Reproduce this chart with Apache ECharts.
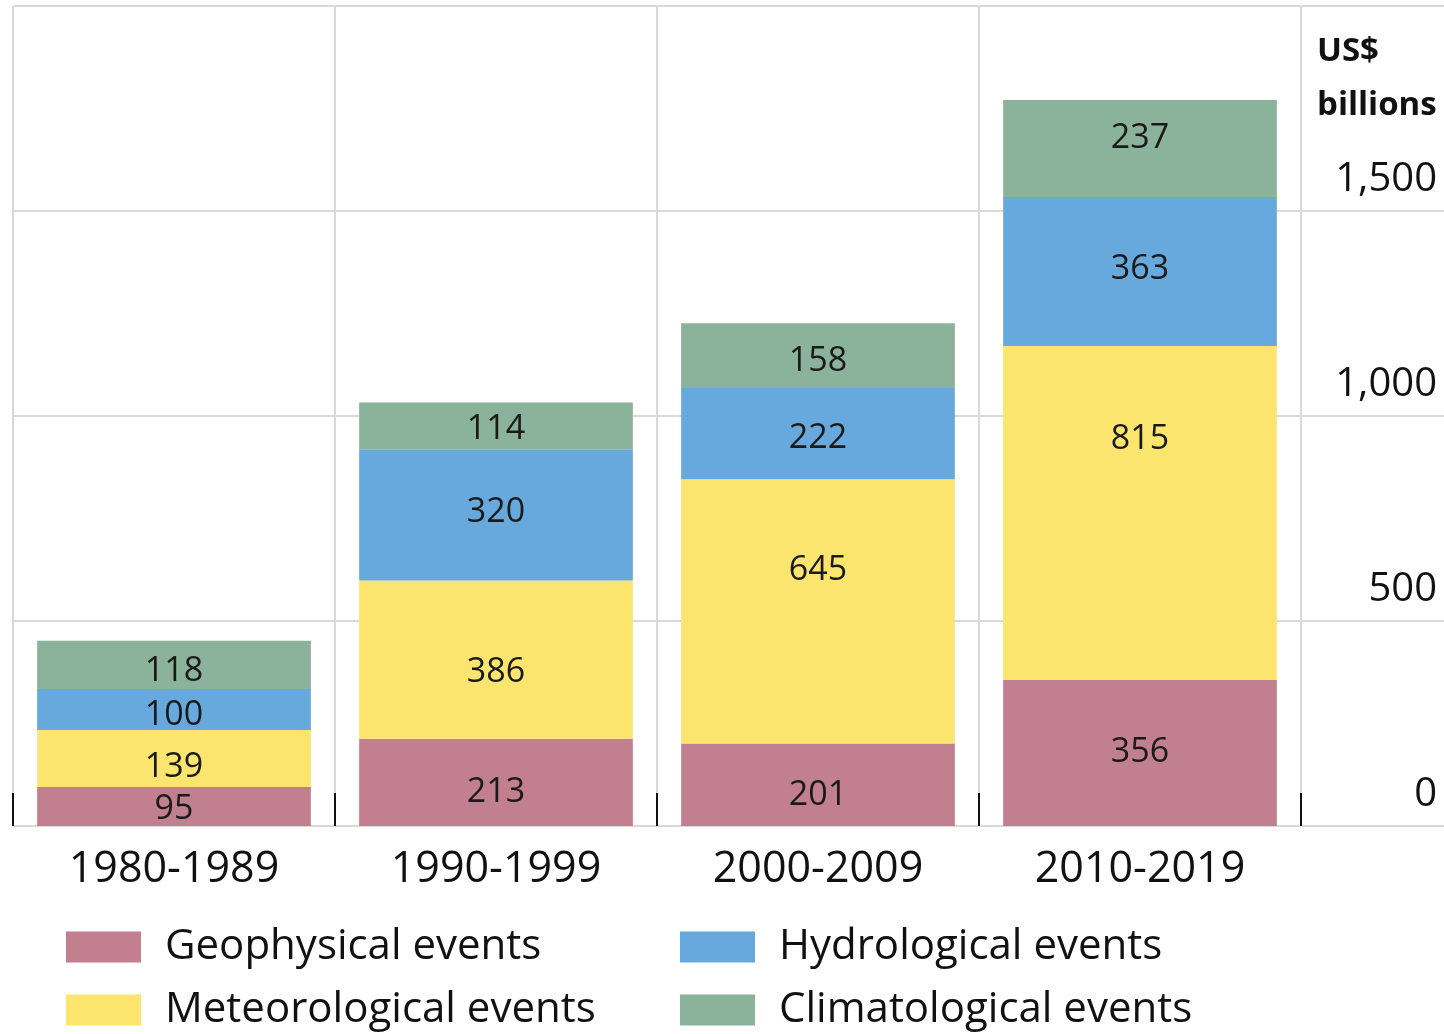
<!DOCTYPE html>
<html>
<head>
<meta charset="utf-8">
<script src="https://cdn.jsdelivr.net/npm/echarts@6/dist/echarts.min.js"></script>
<style>
html,body{margin:0;padding:0;background:#fff;}
#chart{width:1444px;height:1034px;}
</style>
</head>
<body>
<div id="chart"></div>
<script>
const categories = ['1980-1989', '1990-1999', '2000-2009', '2010-2019'];
const geophysical = [95, 213, 201, 356];
const meteorological = [139, 386, 645, 815];
const hydrological = [100, 320, 222, 363];
const climatological = [118, 114, 158, 237];
const yTicks = [0, 500, 1000, 1500, 2000];
const unitLabel = ['US$', 'billions'];

// vertical label nudges (px) to mimic the hand-placed labels of the original
const labelNudge = {
  geo: [3, 10, 11, -1],
  met: [9, 13, -41, -74],
  hyd: [6, -2, 5, -2],
  cli: [6, 3, 6, -10]
};

const FONT = '"Open Sans", "Noto Sans", sans-serif';
const GRID = '#d9d9d9';

const chart = echarts.init(document.getElementById('chart'), null, {renderer: 'canvas'});

function barSeries(name, data, color, nudge) {
  return {
    name: name, type: 'bar', stack: 'total',
    data: data.map(function (v, i) { return {value: v, label: {offset: [0, nudge[i]]}}; }),
    xAxisIndex: 0, yAxisIndex: 0,
    barCategoryGap: '15%',
    itemStyle: {color: color},
    label: {show: true, position: 'inside', color: '#1a1a1a', fontSize: 34, fontFamily: FONT},
    emphasis: {disabled: true}
  };
}

function legendItem(name, left, top) {
  return {
    left: left, top: top, padding: 0, orient: 'horizontal',
    itemWidth: 75, itemHeight: 31, icon: 'rect', selectedMode: false,
    textStyle: {fontSize: 42, fontFamily: FONT, color: '#111', padding: [0, 0, 0, 19]},
    data: [name]
  };
}

const option = {
  animation: false,
  backgroundColor: '#fff',
  grid: [
    {left: 13, right: 143, top: 6, bottom: 208},
    {left: 1301, right: 0, top: 6, bottom: 208}
  ],
  xAxis: [
    {
      type: 'category', gridIndex: 0, data: categories,
      axisLine: {show: true, lineStyle: {color: GRID, width: 2}},
      axisTick: {show: true, inside: true, length: 33, lineStyle: {color: '#111', width: 2}},
      axisLabel: {fontSize: 43, fontFamily: FONT, color: '#111', margin: 22},
      splitLine: {show: true, lineStyle: {color: GRID, width: 2}}
    },
    {
      type: 'category', gridIndex: 1, data: [''],
      axisLine: {show: true, lineStyle: {color: GRID, width: 2}},
      axisTick: {show: false}, axisLabel: {show: false}, splitLine: {show: false}
    }
  ],
  yAxis: [
    {
      type: 'value', gridIndex: 0, min: yTicks[0], max: yTicks[yTicks.length - 1], interval: 500,
      axisLine: {show: false}, axisTick: {show: false}, axisLabel: {show: false},
      splitLine: {show: true, lineStyle: {color: GRID, width: 2}}
    },
    {
      type: 'value', gridIndex: 1, position: 'right', min: yTicks[0], max: yTicks[yTicks.length - 1], interval: 500,
      axisLine: {show: false}, axisTick: {show: false},
      axisLabel: {
        show: true, inside: true, margin: 7, fontSize: 40, fontFamily: FONT, color: '#111',
        verticalAlign: 'bottom', lineHeight: 62,
        formatter: function (v) { return v === yTicks[yTicks.length - 1] ? '' : v.toLocaleString('en-US'); }
      },
      splitLine: {show: true, lineStyle: {color: GRID, width: 2}}
    }
  ],
  legend: [
    legendItem('Geophysical events', 66, 926),
    legendItem('Meteorological events', 66, 989),
    legendItem('Hydrological events', 680, 926),
    legendItem('Climatological events', 680, 989)
  ],
  graphic: [
    {type: 'text', left: 1317, top: 35, style: {text: unitLabel[0], font: 'bold 33px ' + FONT, fill: '#111'}},
    {type: 'text', left: 1317, top: 89, style: {text: unitLabel[1], font: 'bold 33px ' + FONT, fill: '#111'}}
  ],
  series: [
    barSeries('Geophysical events', geophysical, '#c17f8f', labelNudge.geo),
    barSeries('Meteorological events', meteorological, '#fce56f', labelNudge.met),
    barSeries('Hydrological events', hydrological, '#68a9dd', labelNudge.hyd),
    barSeries('Climatological events', climatological, '#8bb29a', labelNudge.cli)
  ]
};
chart.setOption(option);
</script>
</body>
</html>
